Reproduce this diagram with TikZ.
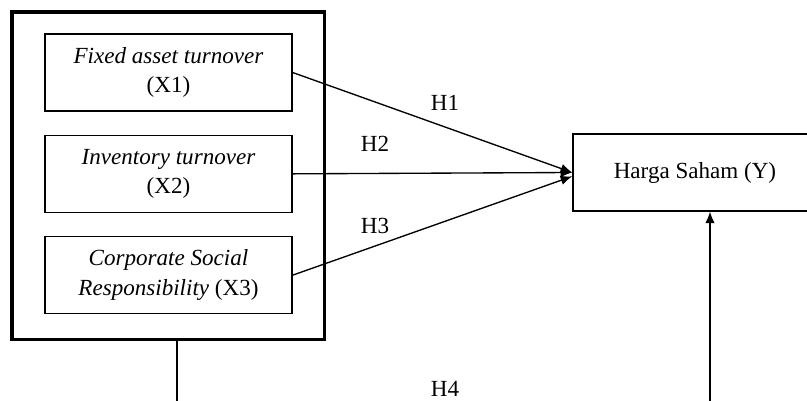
\documentclass[tikz,border=0pt]{standalone}
\usepackage{fontspec}
\setmainfont{Liberation Serif}
\usetikzlibrary{arrows.meta,positioning}

\newcommand{\pxsc}[0]{0.52pt}
\newcommand{\txtsz}[0]{\fontsize{12}{15.5}\selectfont}

\tikzset{
  varbox/.style={draw, line width=0.7pt, minimum width=128.4pt, minimum height=40pt,
                 align=center, inner sep=0pt, font=\txtsz},
  hyp/.style={-{Latex[length=6pt,width=5pt]}, line width=0.7pt},
  hlabel/.style={anchor=base, inner sep=0pt, font=\txtsz}
}

\begin{document}
\begin{tikzpicture}[x=\pxsc, y=-\pxsc]

\useasboundingbox (0,0) rectangle (807,401);

% independent variables
\node[draw, line width=2pt, minimum width=162.5pt, minimum height=170.3pt] (grp) at (168.25,175.75) {};
\node[varbox] (fat) at (168.5,72.5) {\textit{Fixed asset turnover}\\(X1)};
\node[varbox, below=12pt of fat] (invt) {\textit{Inventory turnover}\\(X2)};
\node[varbox, below=12pt of invt] (csr) {\textit{Corporate Social}\\\textit{Responsibility} (X3)};

% dependent variable
\node[varbox, minimum width=127pt] (harga) at (695,172.5) {Harga Saham (Y)};

% hypotheses
\draw[hyp] (fat.east) -- (harga.west);
\draw[hyp] (invt.east) -- (harga.west);
\draw[hyp] (csr.east) -- ([yshift=-2pt]harga.west);

\coordinate (l4) at (177,410);
\coordinate (r4) at (710,410);
\draw[line width=0.7pt] (grp.south -| l4) -- (l4);
\draw[hyp] (r4) -- (r4 |- harga.south);

\node[hlabel] (h1) at (445,111) {H1};
\node[hlabel] (h2) at (375,152) {H2};
\node[hlabel] (h3) at (375,234) {H3};
\node[hlabel] (h4) at (445,397) {H4};

\end{tikzpicture}
\end{document}
